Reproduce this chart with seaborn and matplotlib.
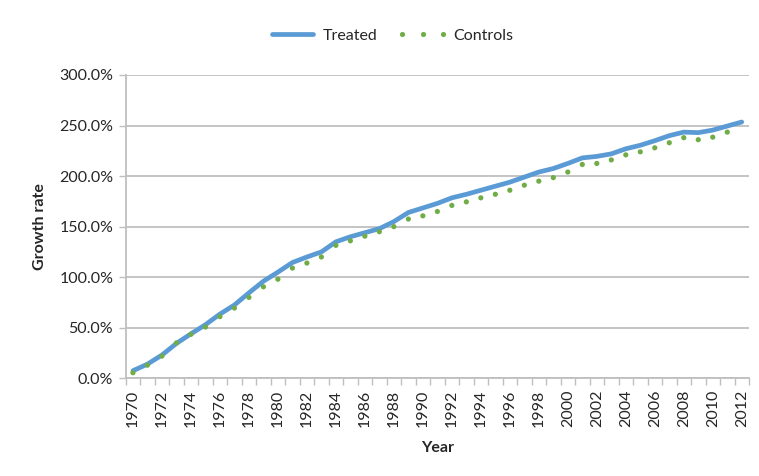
import numpy as np
import pandas as pd
import matplotlib
matplotlib.use("Agg")
import matplotlib.pyplot as plt
import seaborn as sns
from matplotlib.lines import Line2D
from matplotlib.ticker import FuncFormatter, MultipleLocator

# data (growth rate in %)
years = list(range(1970, 2013))
treated = [7.5, 14, 23, 34.5, 44, 53, 63.5, 72.5, 84.5, 96, 105, 114.5, 120, 125, 135,
           140, 144, 148, 155, 164, 168.5, 173, 178.5, 182, 186, 190, 194, 199, 204,
           207.5, 212.5, 218, 219.5, 222, 227, 230.5, 235, 240, 243.5, 243, 245.5,
           249.5, 253.5]
controls = [5.5, 13, 22, 35, 43.5, 50.7, 61, 69.5, 80, 90.5, 98, 109, 114, 120, 131.5,
            136, 140.6, 145, 150, 157.5, 160.7, 165, 171, 174.5, 178.5, 182, 186, 191,
            195, 198.5, 204, 211.5, 212.5, 216, 221, 224, 228, 233, 238, 236, 238.5,
            243.5, np.nan]

df = pd.DataFrame({"year": years, "Treated": treated, "Controls": controls})

sns.set_style("white")
plt.rcParams['font.family'] = ['Lato', 'DejaVu Sans']

W, H = 759, 476
fig = plt.figure(figsize=(W / 100, H / 100), dpi=100)
ax = fig.add_axes([125.7 / W, 1 - 378.3 / H, (749 - 125.7) / W, (378.3 - 75) / H])

blue = "#5b9bd5"
green = "#70ad47"
grid_col = "#bfbfbf"

sns.lineplot(data=df, x="year", y="Treated", ax=ax, color=blue, linewidth=3.4,
             solid_capstyle="round", zorder=3)
sns.scatterplot(data=df, x="year", y="Controls", ax=ax, color=green, s=14,
                edgecolor="none", zorder=4)

ax.set_xlim(1969.5, 2012.5)
ax.set_ylim(0, 300)
ax.yaxis.set_major_locator(MultipleLocator(50))
ax.yaxis.set_major_formatter(FuncFormatter(lambda v, p: f"{v:.1f}%"))
ax.set_xticks(years[::2])
ax.set_xticklabels([str(y) for y in years[::2]], rotation=90)
ax.set_xticks(np.arange(1969.5, 2013, 1), minor=True)
ax.tick_params(axis="x", which="major", length=0, pad=8, labelsize=11.5)
ax.tick_params(axis="x", which="minor", length=5, width=1, color=grid_col, direction="out")
ax.tick_params(axis="y", which="major", length=5, width=1, color=grid_col, direction="out",
               labelsize=11.5, pad=4)
ax.tick_params(left=True, bottom=True, which="both")

ax.grid(axis="y", color=grid_col, linewidth=1.3)
ax.set_axisbelow(True)
for s in ["top", "right"]:
    ax.spines[s].set_visible(False)
for s in ["left", "bottom"]:
    ax.spines[s].set_color(grid_col)
    ax.spines[s].set_linewidth(1.3)

ax.set_xlabel("Year", fontsize=11.5, fontweight="bold", labelpad=10)
ax.set_ylabel("Growth rate", fontsize=11.5, fontweight="bold", labelpad=9)

handles = [
    Line2D([], [], color=blue, linewidth=3.4, solid_capstyle="round"),
    Line2D([], [], color=green, linestyle="none", marker="o", markersize=3.7,
           markeredgewidth=0),
]
fig.legend(handles, ["Treated", "Controls"], loc="center", bbox_to_anchor=(390 / W, 1 - 36 / H),
           ncol=2, frameon=False, fontsize=11.5, handlelength=3.2, numpoints=3,
           columnspacing=1.2, handletextpad=0.3)

fig.savefig("out.png", dpi=100)
